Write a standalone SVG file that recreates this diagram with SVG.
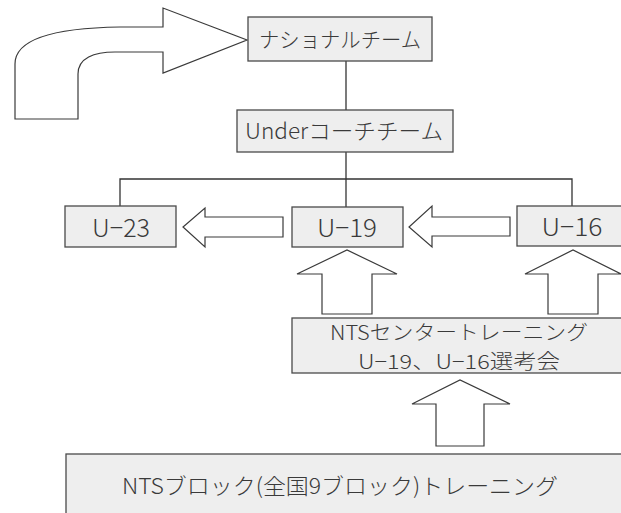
<svg xmlns="http://www.w3.org/2000/svg" width="621" height="513" viewBox="0 0 621 513">
<style>
.box{fill:#eeeeee;stroke:#4a4a4a;stroke-width:1.3}
.lbl{font-family:"Noto Sans CJK JP","Noto Sans",sans-serif;font-weight:300;fill:#3a3a3a;text-anchor:middle}
.ln{stroke:#333;stroke-width:1.3;fill:none}
.arr{fill:#fff;stroke:#3a3a3a;stroke-width:1.2;stroke-linejoin:miter}
</style>
<rect width="621" height="513" fill="#fff"/>
<g id="connectors">
<path class="arr" d="M15,119 L15,64 C15,40 50,28 120,27 L163,27 L163,8 L247,40 L163,73 L163,52 L115,52 C94,52 78,58 78,74 L78,119 Z"/>
<line class="ln" x1="346" y1="61" x2="346" y2="110"/>
<line class="ln" x1="346" y1="152" x2="346" y2="207"/>
<polyline class="ln" points="120,206 120,179 572,179 572,206"/>
<path class="arr" d="M283,217 L205,217 L205,208 L183,227 L205,247 L205,237 L283,237 Z"/>
<path class="arr" d="M510,217 L432,217 L432,206 L409,227 L432,247 L432,236 L510,236 Z"/>
<path class="arr" d="M322,314 L322,274 L297,274 L347,250 L397,274 L372,274 L372,314 Z"/>
<path class="arr" d="M548,314 L548,274 L525,274 L573,250 L621,274 L598,274 L598,314 Z"/>
<path class="arr" d="M436,446 L436,404 L412,404 L460,380 L510,404 L484,404 L484,446 Z"/>
</g>
<g id="node-national">
<rect class="box" x="248" y="17" width="184" height="44"/>
<text class="lbl" x="340" y="47" font-size="21" textLength="162" lengthAdjust="spacingAndGlyphs">ナショナルチーム</text>
</g>
<g id="node-under">
<rect class="box" x="237" y="110" width="216" height="42"/>
<text class="lbl" x="344" y="139" font-size="22" textLength="198" lengthAdjust="spacingAndGlyphs">Underコーチチーム</text>
</g>
<g id="node-u23">
<rect class="box" x="65" y="206" width="111" height="41"/>
<text class="lbl" x="121" y="237" font-size="25" textLength="58" lengthAdjust="spacingAndGlyphs">U−23</text>
</g>
<g id="node-u19">
<rect class="box" x="292" y="207" width="111" height="40"/>
<text class="lbl" x="347" y="237" font-size="25" textLength="60" lengthAdjust="spacingAndGlyphs">U−19</text>
</g>
<g id="node-u16">
<rect class="box" x="517" y="206" width="112" height="40"/>
<text class="lbl" x="572" y="236" font-size="25" textLength="61" lengthAdjust="spacingAndGlyphs">U−16</text>
</g>
<g id="node-nts-center">
<rect class="box" x="292" y="318" width="336" height="55"/>
<text class="lbl" x="459" y="340" font-size="20" textLength="258" lengthAdjust="spacingAndGlyphs">NTSセンタートレーニング</text>
<text class="lbl" x="459" y="369" font-size="20" textLength="202" lengthAdjust="spacingAndGlyphs">U−19、U−16選考会</text>
</g>
<g id="node-nts-block">
<rect class="box" x="66" y="454" width="562" height="70"/>
<text class="lbl" x="340" y="494" font-size="22" textLength="436" lengthAdjust="spacingAndGlyphs">NTSブロック(全国9ブロック)トレーニング</text>
</g>
</svg>
